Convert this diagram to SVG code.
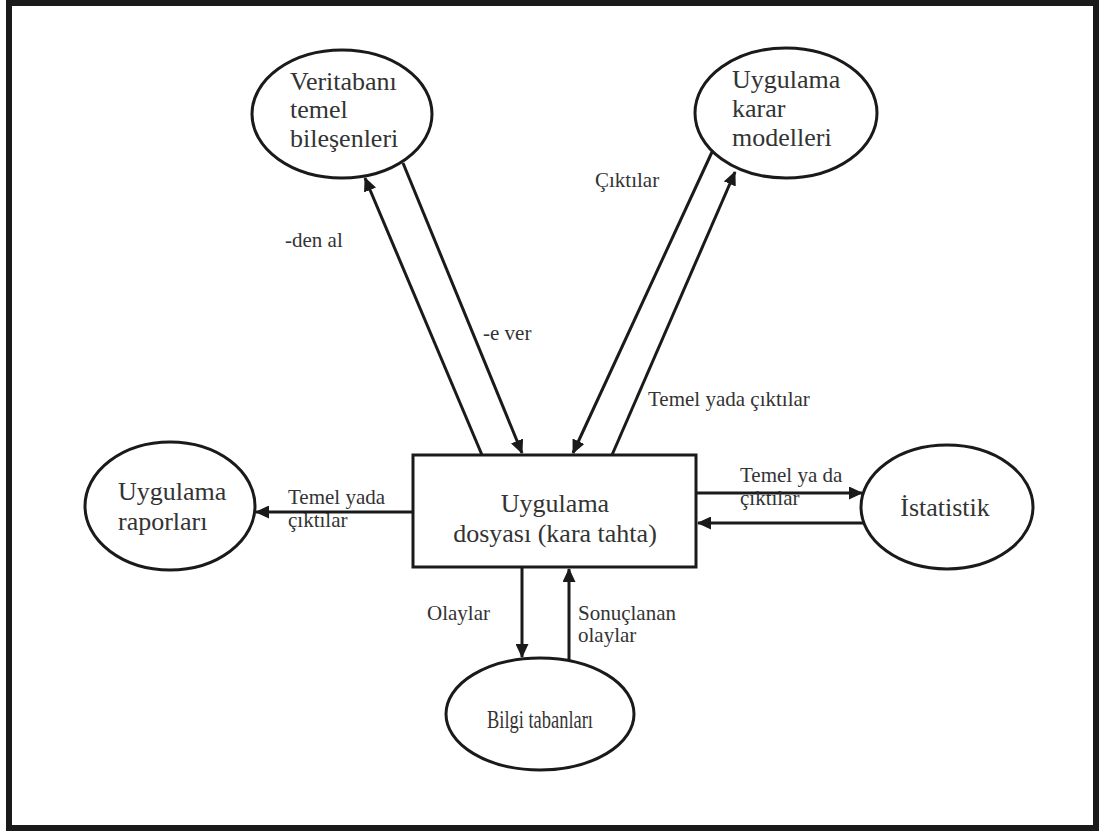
<svg xmlns="http://www.w3.org/2000/svg" width="1099" height="832" viewBox="0 0 1099 832">
<style>
.shape{fill:#fff;stroke:#1a1a1a;stroke-width:3}
.conn{stroke:#1a1a1a;stroke-width:3;fill:none;marker-end:url(#arr)}
.node{font-family:"Liberation Serif","Times New Roman",serif;font-size:26px;fill:#333}
.lbl{font-family:"Liberation Serif","Times New Roman",serif;font-size:21px;fill:#333}
.c{text-anchor:middle}
</style>
<defs>
<marker id="arr" viewBox="0 0 14 13" refX="13" refY="6.5" markerWidth="14" markerHeight="13" markerUnits="userSpaceOnUse" orient="auto">
<path d="M0,0 L14,6.5 L0,13 Z" fill="#1a1a1a"/>
</marker>
</defs>
<rect x="0" y="0" width="1099" height="832" fill="#fff"/>
<rect x="9" y="3" width="1087" height="825" fill="none" stroke="#1a1a1a" stroke-width="6"/>

<g id="connectors">
<line class="conn" x1="482" y1="455" x2="365" y2="178"/>
<line class="conn" x1="403" y1="163" x2="522" y2="453"/>
<line class="conn" x1="712" y1="152" x2="573" y2="453"/>
<line class="conn" x1="612" y1="455" x2="735" y2="172"/>
<line class="conn" x1="696" y1="493" x2="862" y2="493"/>
<line class="conn" x1="864" y1="523" x2="698" y2="523"/>
<line class="conn" x1="413" y1="512" x2="256" y2="512"/>
<line class="conn" x1="522" y1="567" x2="522" y2="657"/>
<line class="conn" x1="569" y1="661" x2="569" y2="569"/>
<text class="lbl" x="285" y="247">-den al</text>
<text class="lbl" x="483" y="340">-e ver</text>
<text class="lbl" x="595" y="187">Çıktılar</text>
<text class="lbl" x="648" y="406">Temel yada çıktılar</text>
<text class="lbl" x="288" y="504">Temel yada</text>
<text class="lbl" x="288" y="527">çıktılar</text>
<text class="lbl" x="740" y="482">Temel ya da</text>
<text class="lbl" x="740" y="505">çıktılar</text>
<text class="lbl" x="427" y="620">Olaylar</text>
<text class="lbl" x="578" y="620">Sonuçlanan</text>
<text class="lbl" x="578" y="642">olaylar</text>
</g>

<g id="veritabani">
<ellipse class="shape" cx="342" cy="114" rx="90" ry="64"/>
<text class="node" x="290" y="90">Veritabanı</text>
<text class="node" x="290" y="118">temel</text>
<text class="node" x="290" y="147">bileşenleri</text>
</g>

<g id="karar">
<ellipse class="shape" cx="786" cy="113" rx="91" ry="65"/>
<text class="node" x="732" y="88">Uygulama</text>
<text class="node" x="732" y="117">karar</text>
<text class="node" x="732" y="146">modelleri</text>
</g>

<g id="dosya">
<rect class="shape" x="413" y="455" width="283" height="112"/>
<text class="node c" x="555" y="512">Uygulama</text>
<text class="node c" x="555" y="542">dosyası (kara tahta)</text>
</g>

<g id="istatistik">
<ellipse class="shape" cx="947" cy="507" rx="86" ry="62"/>
<text class="node c" x="945" y="516">İstatistik</text>
</g>

<g id="raporlar">
<ellipse class="shape" cx="170" cy="506" rx="85" ry="64"/>
<text class="node" x="118" y="500">Uygulama</text>
<text class="node" x="118" y="530">raporları</text>
</g>

<g id="bilgi">
<ellipse class="shape" cx="540" cy="714" rx="94" ry="56"/>
<text class="node c" x="540" y="728" font-size="24" textLength="106" lengthAdjust="spacingAndGlyphs">Bilgi tabanları</text>
</g>
</svg>
